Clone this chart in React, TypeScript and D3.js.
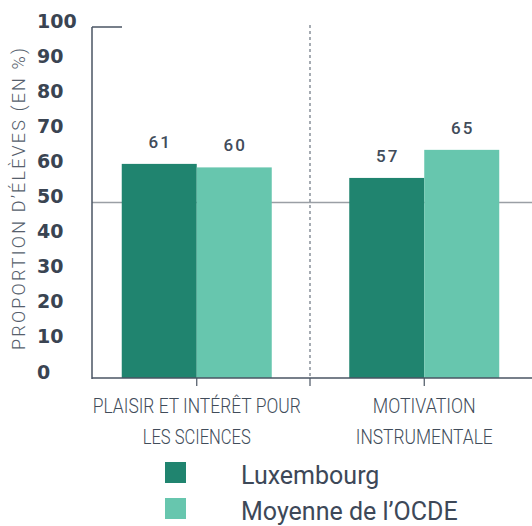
import React, { useEffect, useRef } from 'react'
import * as d3 from 'd3'

const categories = [['PLAISIR ET INTÉRÊT POUR', 'LES SCIENCES'], ['MOTIVATION', 'INSTRUMENTALE']]
const categoryKeys = ['plaisir', 'motivation']
const seriesNames = ['Luxembourg', "Moyenne de l’OCDE"]
const luxembourg = [61, 57]
const oecd = [60, 65]
const yTicks = [0, 10, 20, 30, 40, 50, 60, 70, 80, 90, 100]
const yTitle = 'PROPORTION D’ÉLÈVES (EN %)'

// widths of the condensed label lines, to mimic the narrow font
const labelWidths = [[208, 108], [103, 137]]

const colors = ['#20846f', '#67c6ae']
const textColor = '#414c5a'

const App = () => {
    const ref = useRef<SVGSVGElement | null>(null)

    useEffect(() => {
        const svg = d3.select(ref.current)
        svg.selectAll('*').remove()

        const y = d3.scaleLinear().domain([0, 100]).range([378, 27])
        const x0 = d3.scaleBand().domain(categoryKeys).range([83, 538])
        const x1 = d3.scaleBand().domain(seriesNames)
            .range([x0.bandwidth() / 2 - 75, x0.bandwidth() / 2 + 75])

        const g = svg.append('g')

        // 50% reference line
        g.append('line')
            .attr('x1', 92).attr('x2', 532)
            .attr('y1', y(50)).attr('y2', y(50))
            .attr('stroke', '#9a9fa5').attr('stroke-width', 1.5)

        // dashed divider between groups
        g.append('line')
            .attr('x1', 310).attr('x2', 310)
            .attr('y1', y(100) - 2).attr('y2', y(0))
            .attr('stroke', '#6b7580').attr('stroke-width', 1.2)
            .attr('stroke-dasharray', '3,3')

        const data = categoryKeys.map((k, i) => ({ key: k, values: [luxembourg[i], oecd[i]] }))

        const groups = g.selectAll('g.grp')
            .data(data)
            .join('g')
            .attr('class', 'grp')
            .attr('transform', d => `translate(${x0(d.key)},0)`)

        groups.selectAll('rect')
            .data(d => d.values.map((v, j) => ({ v, s: seriesNames[j], j })))
            .join('rect')
            .attr('x', d => x1(d.s) as number)
            .attr('width', x1.bandwidth())
            .attr('y', d => y(d.v))
            .attr('height', d => y(0) - y(d.v))
            .attr('fill', d => colors[d.j])

        groups.selectAll('text.val')
            .data(d => d.values.map((v, j) => ({ v, s: seriesNames[j] })))
            .join('text')
            .attr('class', 'val')
            .attr('x', d => (x1(d.s) as number) + x1.bandwidth() / 2 + 1)
            .attr('y', d => y(d.v) - 16)
            .attr('text-anchor', 'middle')
            .attr('font-family', 'Roboto, sans-serif')
            .attr('font-weight', 500)
            .attr('font-size', 17)
            .attr('letter-spacing', 2)
            .attr('fill', textColor)
            .text(d => d.v)

        // axes lines
        g.append('line')
            .attr('x1', 92).attr('x2', 92)
            .attr('y1', y(100)).attr('y2', y(0) + 1)
            .attr('stroke', '#4a5563').attr('stroke-width', 1.5)
        g.append('line')
            .attr('x1', 92).attr('x2', 122)
            .attr('y1', y(100)).attr('y2', y(100))
            .attr('stroke', '#4a5563').attr('stroke-width', 1.5)
        g.append('line')
            .attr('x1', 92).attr('x2', 532)
            .attr('y1', y(0)).attr('y2', y(0))
            .attr('stroke', '#4a5563').attr('stroke-width', 1.5)

        // x ticks: at group centers and divider
        const tickXs = [...categoryKeys.map(k => (x0(k) as number) + x0.bandwidth() / 2), 310]
        g.selectAll('line.xt')
            .data(tickXs)
            .join('line')
            .attr('class', 'xt')
            .attr('x1', d => d).attr('x2', d => d)
            .attr('y1', y(0)).attr('y2', y(0) + 8)
            .attr('stroke', '#4a5563').attr('stroke-width', 1.2)

        // category labels
        g.selectAll('text.cat')
            .data(categoryKeys)
            .join('text')
            .attr('class', 'cat')
            .attr('text-anchor', 'middle')
            .attr('font-family', 'Roboto, sans-serif')
            .attr('font-weight', 300)
            .attr('font-size', 20)
            .attr('fill', textColor)
            .each(function (d, i) {
                const cx = (x0(d) as number) + x0.bandwidth() / 2
                d3.select(this).selectAll('tspan')
                    .data(categories[i])
                    .join('tspan')
                    .attr('x', cx)
                    .attr('y', (_, k) => k === 0 ? 413 : 444)
                    .attr('textLength', (_, k) => labelWidths[i][k])
                    .attr('lengthAdjust', 'spacingAndGlyphs')
                    .text(t => t)
            })

        // y tick labels
        g.selectAll('text.yt')
            .data(yTicks)
            .join('text')
            .attr('class', 'yt')
            .attr('x', 37)
            .attr('y', d => y(d) - 5)
            .attr('dominant-baseline', 'middle')
            .attr('font-family', 'DejaVu Sans, sans-serif')
            .attr('font-weight', 700)
            .attr('font-size', 19)
            .attr('fill', '#3a4452')
            .text(d => d)

        // y title
        g.append('text')
            .attr('transform', `translate(24.5,${199}) rotate(-90)`)
            .attr('text-anchor', 'middle')
            .attr('font-family', 'Roboto, sans-serif')
            .attr('font-weight', 300)
            .attr('font-size', 18)
            .attr('textLength', 302)
            .attr('lengthAdjust', 'spacing')
            .attr('fill', '#56606c')
            .text(yTitle)

        // legend
        const leg = g.selectAll('g.leg')
            .data(seriesNames)
            .join('g')
            .attr('class', 'leg')
            .attr('transform', (_, i) => `translate(165,${462 + i * 36})`)
        leg.append('rect')
            .attr('width', 21).attr('height', 21)
            .attr('fill', (_, i) => colors[i])
        leg.append('text')
            .attr('x', 76).attr('y', 22)
            .attr('font-family', 'Roboto, sans-serif')
            .attr('font-size', 25)
            .attr('fill', '#3d4858')
            .text(d => d)
    }, [])

    return (
        <svg ref={ref} width={532} height={526}
            style={{ position: 'absolute', left: 0, top: 0, background: '#fff' }} />
    )
}

export default App
